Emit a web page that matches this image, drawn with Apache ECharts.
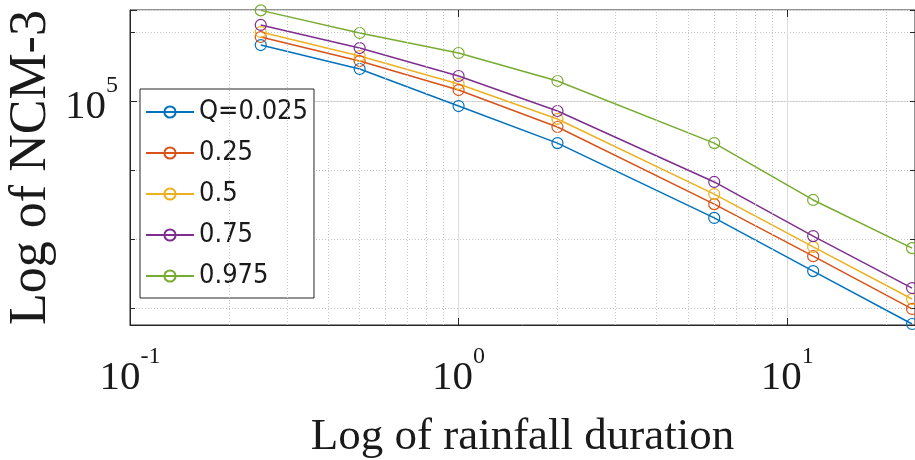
<!DOCTYPE html>
<html>
<head>
<meta charset="utf-8">
<script src="https://cdn.jsdelivr.net/npm/echarts@6/dist/echarts.min.js"></script>
<style>
  html, body { margin: 0; padding: 0; background: #fff; }
  #chart { width: 915px; height: 460px; }
</style>
</head>
<body>
<div id="chart"></div>
<script>
// rainfall duration (x) and NCM-3 quantiles (y)
const durations = [0.25, 0.5, 1, 2, 6, 12, 24];
const q025 = [159500, 130600, 95900, 70400, 37700, 24200, 15560];
const q25 = [170600, 139600, 109600, 80500, 42300, 27400, 17640];
const q50 = [177800, 145600, 115200, 86100, 46000, 29600, 19170];
const q75 = [188600, 155600, 123200, 92000, 50900, 32400, 21000];
const q975 = [213000, 176400, 149300, 118200, 70400, 43800, 29300];

const seriesNames = ["Q=0.025", "0.25", "0.5", "0.75", "0.975"];
const seriesValues = [q025, q25, q50, q75, q975];
const colores = ["#0072BD", "#D95319", "#EDB120", "#7E2F8E", "#77AC30"];

// minor log gridlines on x (matlab style 2..9 x 10^k)
const xMinor = [0.2, 0.3, 0.4, 0.5, 0.6, 0.7, 0.8, 0.9, 2, 3, 4, 5, 6, 7, 8, 9, 20];

const xMin = 0.1, xMax = 24.5;
const yMin = 15430, yMax = 213700;

const serif = '"Liberation Serif", "DejaVu Serif", serif';
const narrow = '"Liberation Sans Narrow", "DejaVu Sans Condensed", "Liberation Sans", sans-serif';
const txt = "#1a1a1a";

const isPow = (v, e) => Math.abs(Math.log10(v) - e) < 1e-6;

const richPow = {
  b: { fontFamily: serif, fontSize: 41, color: txt, padding: [13, 0, 0, 0] },
  sup: { fontFamily: serif, fontSize: 24, color: txt, verticalAlign: "top" },
};

const chart = echarts.init(document.getElementById("chart"), null, { renderer: "canvas" });

const series = seriesNames.map((name, i) => ({
  name: name,
  type: "line",
  data: durations.map((d, j) => [d, seriesValues[i][j]]),
  symbol: "circle",
  symbolSize: 11,
  showSymbol: true,
  z: 3,
  lineStyle: { color: colores[i], width: 1.5 },
  itemStyle: { color: "rgba(255,255,255,0)", borderColor: colores[i], borderWidth: 1.2 },
}));

// dotted minor gridlines for the log x axis
series.push({
  type: "line",
  name: "grid",
  data: [],
  z: 1,
  silent: true,
  markLine: {
    silent: true,
    symbol: ["none", "none"],
    label: { show: false },
    lineStyle: { type: [1, 2], color: "#c4c4c4", width: 1 },
    data: xMinor.map((v) => ({ xAxis: v })),
  },
});

chart.setOption({
  animation: false,
  backgroundColor: "#fff",
  grid: {
    left: 130,
    top: 10,
    right: 0,
    bottom: 135,
    containLabel: false,
    outerBoundsMode: "none",
    show: true,
    borderColor: "#262626",
    borderWidth: 1,
    backgroundColor: "transparent",
  },
  legend: {
    data: seriesNames,
    orient: "vertical",
    left: 140,
    top: 89,
    backgroundColor: "#fff",
    borderColor: "#262626",
    borderWidth: 1,
    padding: [7, 6, 6, 5],
    itemWidth: 48,
    itemHeight: 14,
    itemGap: 9,
    textStyle: { fontFamily: narrow, fontSize: 27, color: txt, lineHeight: 32 },
  },
  xAxis: [
    {
      type: "log",
      min: xMin,
      max: xMax,
      name: "Log of rainfall duration",
      nameLocation: "middle",
      nameGap: 90,
      nameMoveOverlap: false,
      nameTextStyle: { fontFamily: serif, fontSize: 45, color: txt },
      axisLine: { lineStyle: { color: "#262626" } },
      axisTick: { inside: true, length: 7, lineStyle: { color: "#262626" } },
      axisLabel: {
        margin: 20,
        formatter: (v) => {
          const e = Math.round(Math.log10(v));
          return isPow(v, e) ? `{b|10}{sup|${e}}` : "";
        },
        rich: richPow,
      },
      splitLine: { show: true, lineStyle: { color: "#dcdcdc", width: 1 } },
    },
    {
      type: "log",
      position: "top",
      min: xMin,
      max: xMax,
      axisLine: { show: false },
      axisTick: { inside: true, length: 7, lineStyle: { color: "#262626" } },
      axisLabel: { show: false },
      splitLine: { show: false },
    },
  ],
  yAxis: [
    {
      type: "log",
      min: yMin,
      max: yMax,
      name: "Log of NCM-3",
      nameLocation: "middle",
      nameGap: 73,
      nameMoveOverlap: false,
      nameTextStyle: { fontFamily: serif, fontSize: 52, color: txt },
      axisLine: { lineStyle: { color: "#262626" } },
      axisTick: { inside: true, length: 7, lineStyle: { color: "#262626" } },
      axisLabel: {
        margin: 12,
        formatter: (v) => (isPow(v, 5) ? "{b|10}{sup|5}" : ""),
        rich: richPow,
      },
      splitLine: { show: true, lineStyle: { color: "#dcdcdc", width: 1 } },
    },
    {
      // quarter-decade dotted gridlines
      type: "log",
      logBase: Math.pow(10, 0.25),
      min: yMin,
      max: yMax,
      position: "left",
      axisLine: { show: false },
      axisTick: { inside: true, length: 5, lineStyle: { color: "#262626" } },
      axisLabel: { show: false },
      splitLine: { show: true, lineStyle: { type: [1, 2], color: "#c4c4c4", width: 1 } },
    },
    {
      type: "log",
      logBase: Math.pow(10, 0.25),
      min: yMin,
      max: yMax,
      position: "right",
      axisLine: { show: false },
      axisTick: { inside: true, length: 5, lineStyle: { color: "#262626" } },
      axisLabel: { show: false },
      splitLine: { show: false },
    },
  ],
  series: series,
});
</script>
</body>
</html>
